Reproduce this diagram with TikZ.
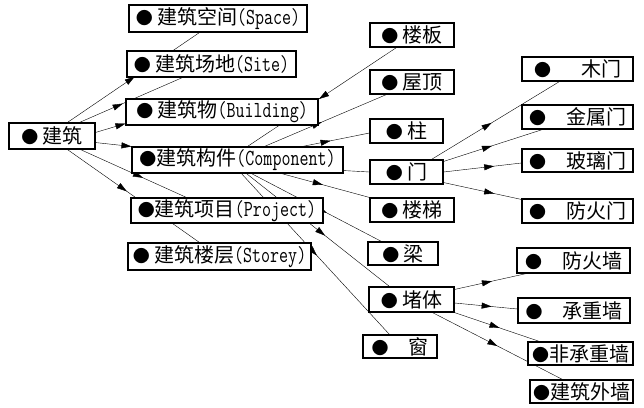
\documentclass[tikz,border=0pt]{standalone}
\usepackage{fontspec}
\setmainfont{Noto Sans CJK SC}
\usetikzlibrary{arrows.meta,decorations.markings,backgrounds}
\newcommand{\latn}[1]{\scalebox{0.76}[1]{\fontsize{23pt}{24pt}\ttfamily #1}}
\newcommand{\dotm}{{\fontsize{17pt}{17pt}\selectfont ●}}
\tikzset{
  >={Triangle[length=10pt,width=6pt]},
  box/.style={draw, fill=white, line width=1.1pt, inner sep=0pt, font=\fontsize{20pt}{22pt}\selectfont},
  sz/.style 2 args={minimum width=#1pt, minimum height=#2pt},
  link/.style={line width=0.8pt},
  midarr/.style={decoration={markings, mark=at position #1 with {\arrow{>}}}, postaction={decorate}}
}
\begin{document}
\begin{tikzpicture}[x=1pt, y=-1pt]
\useasboundingbox (0,0) rectangle (644,407);
\node [box, sz={86}{26}] (jz) at (52,136) {\dotm\ 建筑};
\node [box, sz={178}{27}] (space) at (218,18.5) {\dotm\ 建筑空间\latn{(Space)}};
\node [box, sz={169}{26}] (site) at (211.5,64) {\dotm\ 建筑场地\latn{(Site)}};
\node [box, sz={192}{26}] (bld) at (222,112) {\dotm\ 建筑物\latn{(Building)}};
\node [box, sz={211}{26}] (comp) at (237.5,160) {\dotm 建筑构件\latn{(Component)}};
\node [box, sz={192}{25}] (proj) at (227,210.5) {\dotm 建筑项目\latn{(Project)}};
\node [box, sz={183}{27}] (storey) at (219.5,256.5) {\dotm\ 建筑楼层\latn{(Storey)}};
\node [box, sz={84}{24}] (lb) at (412,35) {\dotm\ 楼板};
\node [box, sz={84}{24}] (wd) at (412,82) {\dotm\ 屋顶};
\node [box, sz={73}{24}] (zhu) at (406.5,131) {\dotm\ 柱};
\node [box, sz={73}{24}] (men) at (406.5,172) {\dotm\ 门};
\node [box, sz={84}{24}] (lt) at (412,210) {\dotm\ 楼梯};
\node [box, sz={70}{23}] (liang) at (403,253.5) {\dotm\ 梁};
\node [box, sz={85}{25}] (dt) at (411.5,299.5) {\dotm\ 堵体};
\node [box, sz={74}{23}] (chuang) at (400,346.5) {\dotm\quad 窗};
\node [box, sz={111}{24}] (mm) at (577.5,69) {\dotm\quad\enspace 木门};
\node [box, sz={111}{24}] (jsm) at (577.5,117) {\dotm\quad 金属门};
\node [box, sz={111}{23}] (blm) at (577.5,160.5) {\dotm\quad 玻璃门};
\node [box, sz={111}{24}] (fhm) at (577.5,211) {\dotm\quad 防火门};
\node [box, sz={113}{25}] (fhq) at (573.5,260.5) {\dotm\quad 防火墙};
\node [box, sz={112}{25}] (czq) at (574,310.5) {\dotm\quad 承重墙};
\node [box, sz={105}{23}] (fczq) at (580.5,353.5) {\dotm 非承重墙};
\node [box, sz={103}{23}] (jzwq) at (581.5,391.5) {\dotm 建筑外墙};
\begin{scope}[on background layer, link]
\draw [midarr=0.51] ([xshift=59pt]jz.north west) -- ([xshift=71pt]space.south west);
\draw [midarr=0.42] ([xshift=71pt]jz.north west) -- ([xshift=56pt]site.south west);
\draw [->] ([yshift=-10pt]jz.north east) -- ([yshift=2pt]bld.south west);
\draw [->] ([yshift=7pt]jz.south east) -- (comp.north west);
\draw [midarr=0.59] ([xshift=72pt]jz.south west) -- ([xshift=56pt]proj.north west);
\draw [midarr=0.45] ([xshift=59pt]jz.south west) -- ([xshift=72pt]storey.north west);
\draw [midarr=0.52] ([xshift=27pt]lb.south west) -- ([xshift=116pt]comp.north west);
\draw [midarr=0.47] ([xshift=133pt]comp.north west) -- ([xshift=17pt]wd.south west);
\draw [midarr=0.42] ([xshift=171pt]comp.north west) -- ([yshift=-2pt]zhu.west);
\draw ([yshift=3pt]comp.south east) -- (men.west);
\draw [midarr=0.47] ([xshift=150pt]comp.south west) -- (lt.north west);
\draw [midarr=0.58] ([xshift=120pt]comp.south west) -- ([xshift=14pt]liang.north west);
\draw [midarr=0.55] ([xshift=115pt]comp.south west) -- ([xshift=21pt]dt.north west);
\draw [midarr=0.51] ([xshift=110pt]comp.south west) -- ([xshift=27pt]chuang.north west);
\draw [midarr=0.47] ([xshift=62pt]men.north west) -- ([xshift=38pt]mm.south west);
\draw [midarr=0.49] ([yshift=-2pt]men.north east) -- ([xshift=21pt]jsm.south west);
\draw [midarr=0.65] (men.east) -- ([yshift=-2.5pt]blm.west);
\draw [midarr=0.65] ([yshift=2pt]men.south east) -- ([yshift=-1pt]fhm.north west);
\draw [midarr=0.52] ([yshift=-3pt]dt.north east) -- ([xshift=10pt]fhq.south west);
\draw [midarr=0.59] ([yshift=-3.5pt]dt.east) -- ([yshift=1.5pt]czq.west);
\draw [midarr=0.53] (dt.south east) -- ([xshift=12pt]fczq.north west);
\draw [midarr=0.5] ([xshift=64pt]dt.south west) -- ([xshift=33pt]jzwq.north west);
\end{scope}
\end{tikzpicture}
\end{document}
